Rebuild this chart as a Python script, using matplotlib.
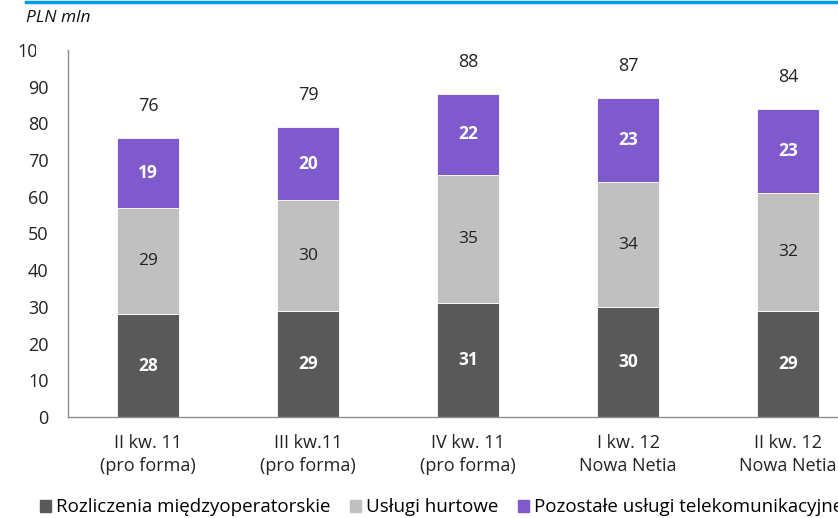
import matplotlib
matplotlib.use("Agg")
import matplotlib.pyplot as plt
from matplotlib.transforms import Bbox
import numpy as np

plt.rcParams['font.family'] = ['Open Sans', 'DejaVu Sans']

# quarterly revenue, PLN mln
quarters = ['II kw. 11\n(pro forma)', 'III kw.11\n(pro forma)', 'IV kw. 11\n(pro forma)',
            'I kw. 12\nNowa Netia', 'II kw. 12\nNowa Netia']
interconnect = [28, 29, 31, 30, 29]
wholesale = [29, 30, 35, 34, 32]
other_telco = [19, 20, 22, 23, 23]
totals = [76, 79, 88, 87, 84]

series_names = ['Rozliczenia międzyoperatorskie', 'Usługi hurtowe',
                'Pozostałe usługi telekomunikacyjne']
colors = ['#595959', '#c0c0c0', '#7f5acd']
label_colors = ['white', '#222222', 'white']

W, H = 838, 518
fig = plt.figure(figsize=(W / 100, H / 100), dpi=100)
fig.patch.set_facecolor('white')

# axes runs past the right edge of the figure
ax = fig.add_axes([68 / W, (H - 417) / H, 800 / W, (417 - 50) / H])

ind = np.arange(len(quarters))
width = 0.39
bottom = np.zeros(len(quarters))
for vals, col, lcol in zip([interconnect, wholesale, other_telco], colors, label_colors):
    bars = ax.bar(ind, vals, width, bottom=bottom, color=col, edgecolor='white', linewidth=0.6)
    for rect, v in zip(bars, vals):
        ax.text(rect.get_x() + rect.get_width() / 2, rect.get_y() + v / 2, str(v),
                ha='center', va='center', color=lcol, fontsize=12.5,
                fontweight='bold' if lcol == 'white' else 'normal')
    bottom += np.array(vals)

for x, t, b in zip(ind, totals, bottom):
    ax.annotate(str(t), xy=(x, b), xytext=(0, 23), textcoords='offset points',
                ha='center', va='center', fontsize=13, color='#222222')

ax.set_xlim(-0.5, 4.5)
ax.set_ylim(0, 100)
ax.set_yticks(np.arange(0, 101, 10))
ax.set_xticks(ind)
ax.set_xticklabels(quarters, fontsize=13, color='#222222', linespacing=1.4)
ax.tick_params(axis='both', length=0, colors='#222222')
ax.tick_params(axis='y', pad=14, labelsize=13)
ax.tick_params(axis='x', pad=12)
for side in ['top', 'right']:
    ax.spines[side].set_visible(False)
for side in ['left', 'bottom']:
    ax.spines[side].set_color('#8c8c8c')
    ax.spines[side].set_linewidth(1.0)

# top label is cut off in the source layout
fig.canvas.draw()
top_lbl = ax.get_yticklabels()[-1]
top_lbl.set_clip_on(True)
top_lbl.set_clip_box(Bbox.from_extents(0, 0, 36, H))

fig.text(26 / W, 1 - 18 / H, 'PLN mln', fontsize=12.5, style='italic', va='center', color='#111111')
fig.add_artist(plt.Line2D([26 / W, 1], [1 - 1.5 / H, 1 - 1.5 / H], color='#009fe8', linewidth=2.5))

handles = [plt.Rectangle((0, 0), 1, 1, color=c) for c in colors]
fig.legend(handles, series_names, loc='lower left', bbox_to_anchor=(32 / W, -6 / H), ncol=3,
           frameon=False, fontsize=13.5, handlelength=0.6, handleheight=0.6,
           handletextpad=0.3, columnspacing=1.0, borderaxespad=0)

fig.savefig('out.png', dpi=100)
